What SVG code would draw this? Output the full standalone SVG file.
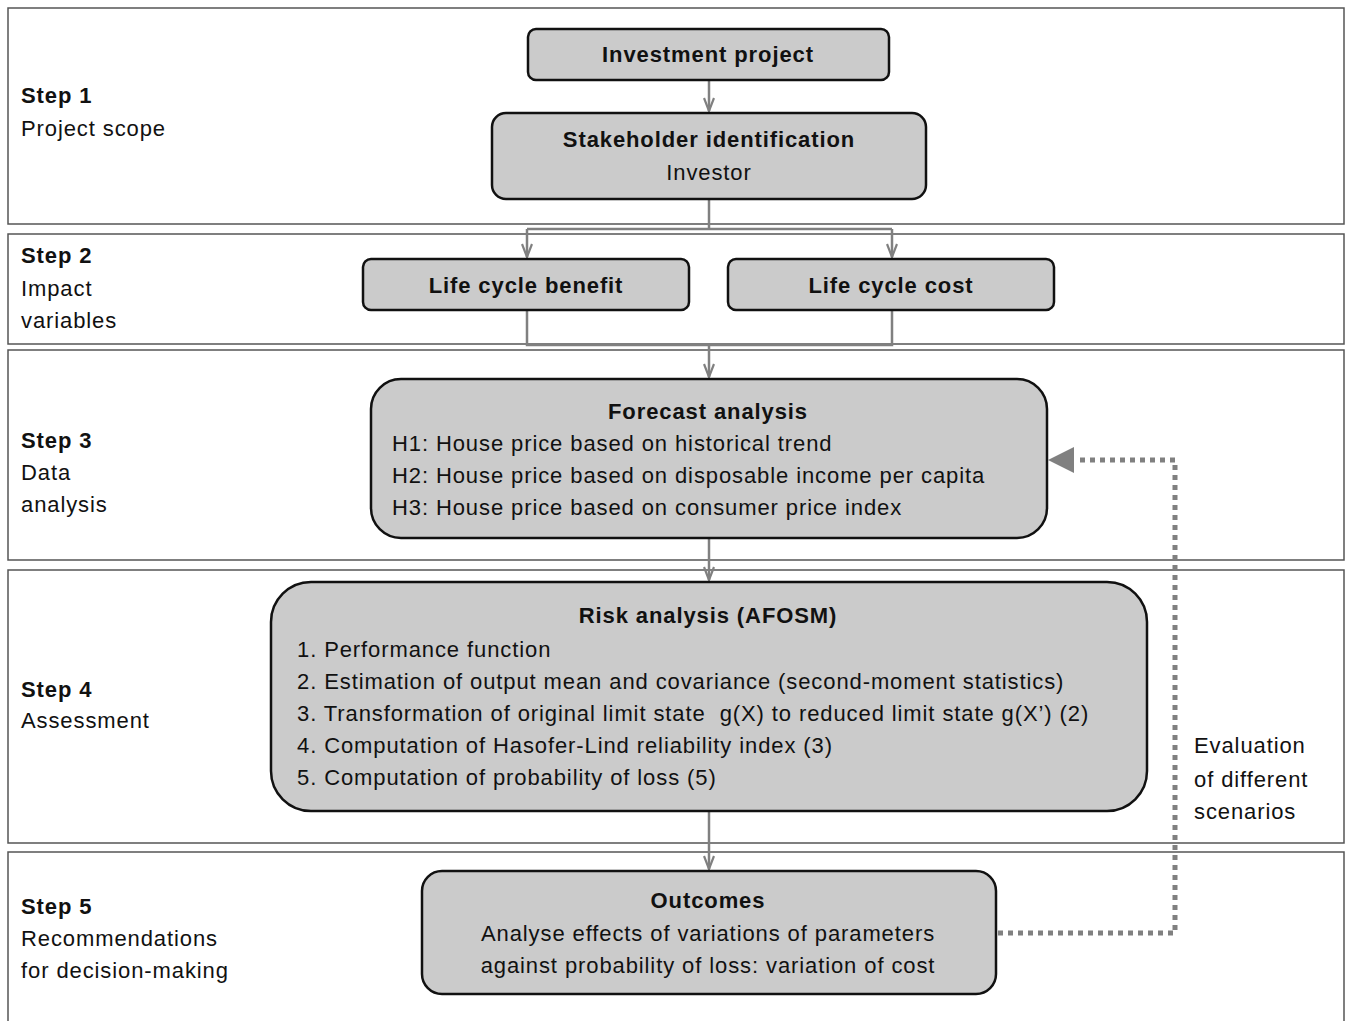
<svg xmlns="http://www.w3.org/2000/svg" width="1346" height="1021" viewBox="0 0 1346 1021">
<style>
.band{fill:#fff;stroke:#555;stroke-width:1.5}
.node{fill:#cbcbcb;stroke:#111;stroke-width:2.5}
text{font-family:"Liberation Sans",Arial,sans-serif;font-size:22px;letter-spacing:0.9px;fill:#111}
.b{font-weight:bold}
.c{text-anchor:middle}
.conn{fill:none;stroke:#808080;stroke-width:2.5}
.dot{fill:none;stroke:#808080;stroke-width:5;stroke-dasharray:5,5}
</style>
<defs>
<marker id="open" markerWidth="16" markerHeight="12" refX="14" refY="6" orient="auto" markerUnits="userSpaceOnUse">
<path d="M1,1 L14,6 L1,11" fill="none" stroke="#808080" stroke-width="2.2"/>
</marker>
</defs>
<g id="bands">
<rect class="band" x="8" y="8" width="1336" height="216"/>
<rect class="band" x="8" y="234" width="1336" height="110"/>
<rect class="band" x="8" y="350" width="1336" height="210"/>
<rect class="band" x="8" y="570" width="1336" height="273"/>
<rect class="band" x="8" y="852" width="1336" height="180"/>
</g>
<g id="step-labels">
<text x="21" y="103" class="b">Step 1</text>
<text x="21" y="136">Project scope</text>
<text x="21" y="263" class="b">Step 2</text>
<text x="21" y="296">Impact</text>
<text x="21" y="328">variables</text>
<text x="21" y="448" class="b">Step 3</text>
<text x="21" y="480">Data</text>
<text x="21" y="512">analysis</text>
<text x="21" y="697" class="b">Step 4</text>
<text x="21" y="728">Assessment</text>
<text x="21" y="914" class="b">Step 5</text>
<text x="21" y="946">Recommendations</text>
<text x="21" y="978">for decision-making</text>
</g>
<g id="connectors">
<path class="conn" d="M709,80 V111" marker-end="url(#open)"/>
<path class="conn" d="M709,199 V229"/>
<path class="conn" d="M527,229 H892"/>
<path class="conn" d="M527,229 V257" marker-end="url(#open)"/>
<path class="conn" d="M892,229 V257" marker-end="url(#open)"/>
<path class="conn" d="M527,310 V345 H892 V310"/>
<path class="conn" d="M709,345 V377" marker-end="url(#open)"/>
<path class="conn" d="M709,538 V580" marker-end="url(#open)"/>
<path class="conn" d="M709,811 V869" marker-end="url(#open)"/>
<path class="dot" d="M998,933 H1175 V460 H1075"/>
<path d="M1048,460 L1074,447 L1074,473 Z" fill="#808080"/>
</g>
<g id="investment-project">
<rect class="node" x="528" y="29" width="361" height="51" rx="8"/>
<text x="708" y="62" class="b c">Investment project</text>
</g>
<g id="stakeholder-identification">
<rect class="node" x="492" y="113" width="434" height="86" rx="14"/>
<text x="709" y="147" class="b c">Stakeholder identification</text>
<text x="709" y="180" class="c">Investor</text>
</g>
<g id="life-cycle-benefit">
<rect class="node" x="363" y="259" width="326" height="51" rx="8"/>
<text x="526" y="293" class="b c">Life cycle benefit</text>
</g>
<g id="life-cycle-cost">
<rect class="node" x="728" y="259" width="326" height="51" rx="8"/>
<text x="891" y="293" class="b c">Life cycle cost</text>
</g>
<g id="forecast-analysis">
<rect class="node" x="371" y="379" width="676" height="159" rx="30"/>
<text x="708" y="419" class="b c">Forecast analysis</text>
<text x="392" y="451">H1: House price based on historical trend</text>
<text x="392" y="483">H2: House price based on disposable income per capita</text>
<text x="392" y="515">H3: House price based on consumer price index</text>
</g>
<g id="risk-analysis">
<rect class="node" x="271" y="582" width="876" height="229" rx="40"/>
<text x="708" y="623" class="b c">Risk analysis (AFOSM)</text>
<text x="297" y="657">1. Performance function</text>
<text x="297" y="689">2. Estimation of output mean and covariance (second-moment statistics)</text>
<text x="297" y="721">3. Transformation of original limit state&#160; g(X) to reduced limit state g(X’) (2)</text>
<text x="297" y="753">4. Computation of Hasofer-Lind reliability index (3)</text>
<text x="297" y="785">5. Computation of probability of loss (5)</text>
</g>
<g id="outcomes">
<rect class="node" x="422" y="871" width="574" height="123" rx="20"/>
<text x="708" y="908" class="b c">Outcomes</text>
<text x="708" y="941" class="c">Analyse effects of variations of parameters</text>
<text x="708" y="973" class="c">against probability of loss: variation of cost</text>
</g>
<g id="loop-label">
<text x="1194" y="753">Evaluation</text>
<text x="1194" y="787">of different</text>
<text x="1194" y="819">scenarios</text>
</g>
</svg>
